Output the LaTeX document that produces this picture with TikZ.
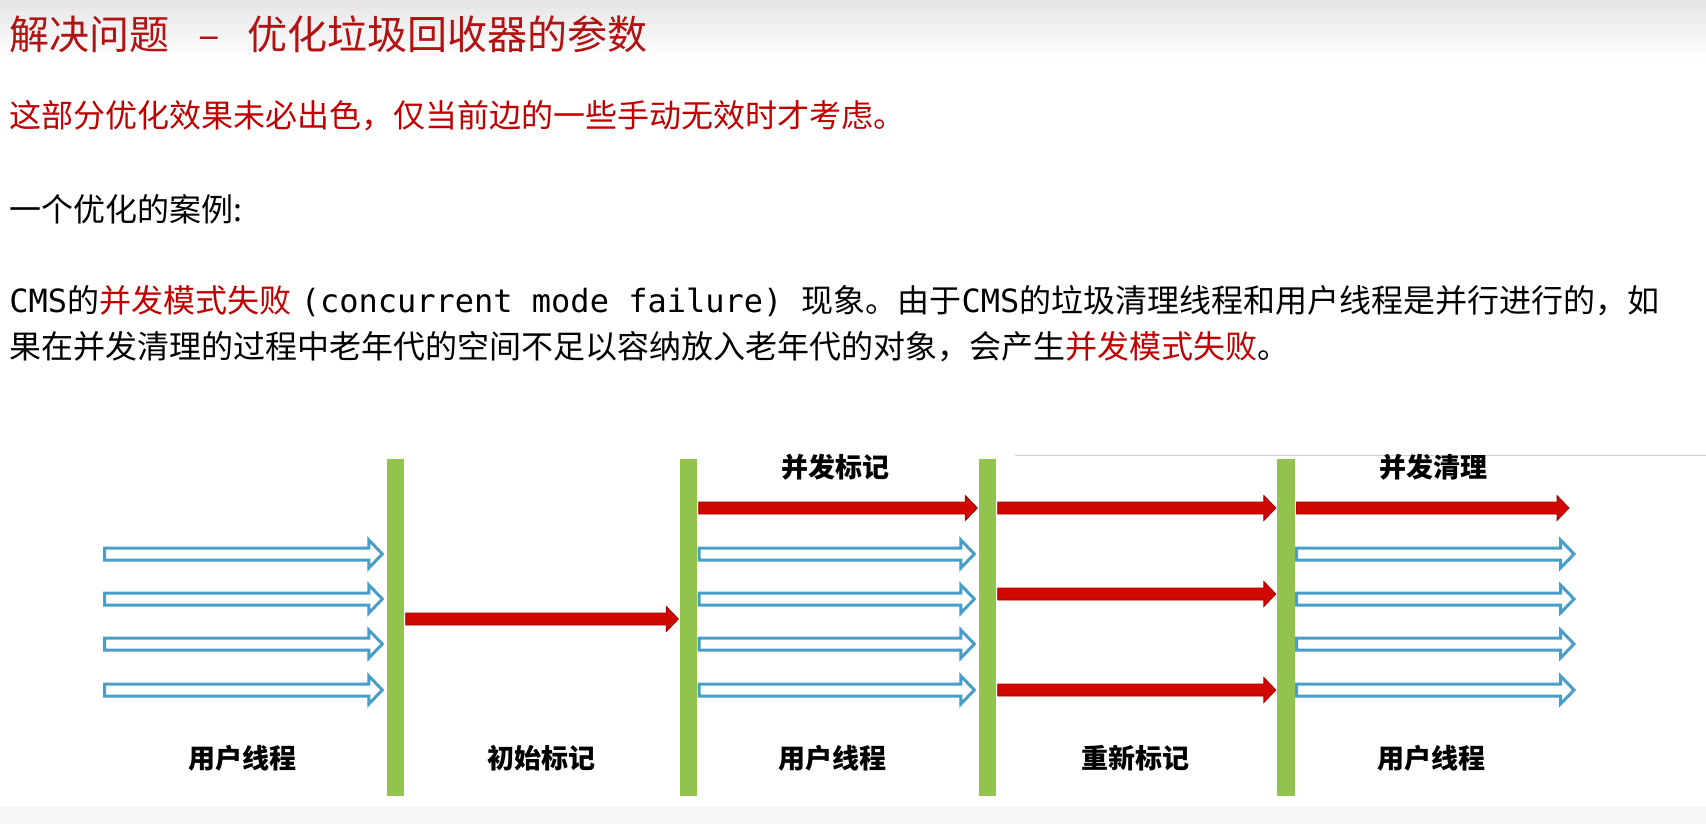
\documentclass[tikz,border=0pt]{standalone}
\usepackage{fontspec}
\setmainfont{Noto Sans CJK SC}
\newfontfamily\code{DejaVu Sans Mono}
\usetikzlibrary{calc}

\definecolor{titlered}{RGB}{178,18,18}
\definecolor{notered}{RGB}{192,0,0}
\definecolor{bargreen}{RGB}{146,195,77}
\definecolor{threadblue}{RGB}{72,158,200}
\definecolor{gcred}{RGB}{208,8,0}
\definecolor{gcredline}{RGB}{165,0,0}

\begin{document}
\begin{tikzpicture}[x=0.5pt, y=-0.5pt,
    heading/.style={anchor=base west, inner sep=0pt, text=titlered, font=\fontsize{20pt}{20pt}\selectfont},
    textline/.style={anchor=base west, inner sep=0pt, font=\fontsize{16pt}{16pt}\selectfont},
    phase/.style={inner sep=0pt, font=\fontsize{13.5pt}{13.5pt}\selectfont\bfseries},
    gcbar/.style={fill=bargreen, draw=none, minimum width=8.75pt, minimum height=168.5pt, inner sep=0pt},
    threadarrow/.style={draw=threadblue, line width=1.5pt, fill=white, line join=miter,
        to path={let \p1=(\tikztostart), \p2=(\tikztotarget) in
            (\x1+0.75pt,\y2+3pt) -- (\x2-8.75pt,\y2+3pt) -- (\x2-8.75pt,\y2+7pt) -- (\x2-2pt,\y2)
            -- (\x2-8.75pt,\y2-7pt) -- (\x2-8.75pt,\y2-3pt) -- (\x1+0.75pt,\y2-3pt) -- cycle}},
    gcarrow/.style={draw=gcredline, line width=0.4pt, fill=gcred,
        to path={let \p1=(\tikztostart), \p2=(\tikztotarget) in
            (\x1+0.5pt,\y2+3pt) -- (\x2-6.5pt,\y2+3pt) -- (\x2-6.5pt,\y2+6.25pt) -- (\x2-0.5pt,\y2)
            -- (\x2-6.5pt,\y2-6.25pt) -- (\x2-6.5pt,\y2-3pt) -- (\x1+0.5pt,\y2-3pt) -- cycle}}
]
    \useasboundingbox (0,0) rectangle (1706,824);
    \fill[white] (0,0) rectangle (1706,824);
    \shade[top color=black!10, bottom color=white] (0,0) rectangle (1706,60);
    \fill[black!3] (0,806) rectangle (1706,824);
    \draw[black!18, line width=0.5pt] (1015,455) -- (1706,455);

    % text
    \node[heading] (title) at (9,50) {解决问题\hspace{0.72em}–\hspace{0.7em}优化垃圾回收器的参数};
    \node[textline, text=notered] (note) at (9,127) {这部分优化效果未必出色，仅当前边的一些手动无效时才考虑。};
    \node[textline] (case) at (9,221) {一个优化的案例:};
    \node[textline] (desc1) at (9,312) {{\code CMS}的{\color{notered}并发模式失败}\hspace{0.3em}{\code (concurrent mode failure) }现象。由于{\code CMS}的垃圾清理线程和用户线程是并行进行的，如};
    \node[textline] (desc2) at (9,358) {果在并发清理的过程中老年代的空间不足以容纳放入老年代的对象，会产生{\color{notered}并发模式失败}。};

    % safepoint bars
    \node[gcbar] (bar1) at (395.5,627.5) {};
    \node[gcbar] (bar2) at (688.5,627.5) {};
    \node[gcbar] (bar3) at (987.5,627.5) {};
    \node[gcbar] (bar4) at (1286,627.5) {};

    % rows
    \coordinate (rowT) at (103,508);
    \coordinate (rowM) at (103,619);
    \coordinate (rowR) at (103,594);
    \foreach \y [count=\r] in {554,599,644,690} {
        \coordinate (row\r) at (103,\y);
        \coordinate (out\r) at (1578,\y);
    }
    \coordinate (outT) at (1570,508);

    % user threads
    \foreach \r in {1,...,4} {
        \draw[threadarrow] (row\r) to (bar1.west |- row\r);
        \draw[threadarrow] (bar2.east |- row\r) to (bar3.west |- row\r);
        \draw[threadarrow] (bar4.east |- row\r) to (out\r);
    }

    % gc threads
    \draw[gcarrow] (bar1.east |- rowM) to (bar2.west |- rowM);
    \draw[gcarrow] (bar2.east |- rowT) to (bar3.west |- rowT);
    \draw[gcarrow] (bar3.east |- rowT) to (bar4.west |- rowT);
    \draw[gcarrow] (bar3.east |- rowR) to (bar4.west |- rowR);
    \draw[gcarrow] (bar3.east |- row4) to (bar4.west |- row4);
    \draw[gcarrow] (bar4.east |- rowT) to (outT);

    % phase labels
    \node[phase] (markc) at (835,467) {并发标记};
    \node[phase] (sweepc) at (1433,467) {并发清理};
    \node[phase] (user1) at (242,758) {用户线程};
    \node[phase] (initm) at (541,758) {初始标记};
    \node[phase] (user2) at (832,758) {用户线程};
    \node[phase] (remark) at (1135,758) {重新标记};
    \node[phase] (user3) at (1431,758) {用户线程};
\end{tikzpicture}
\end{document}
